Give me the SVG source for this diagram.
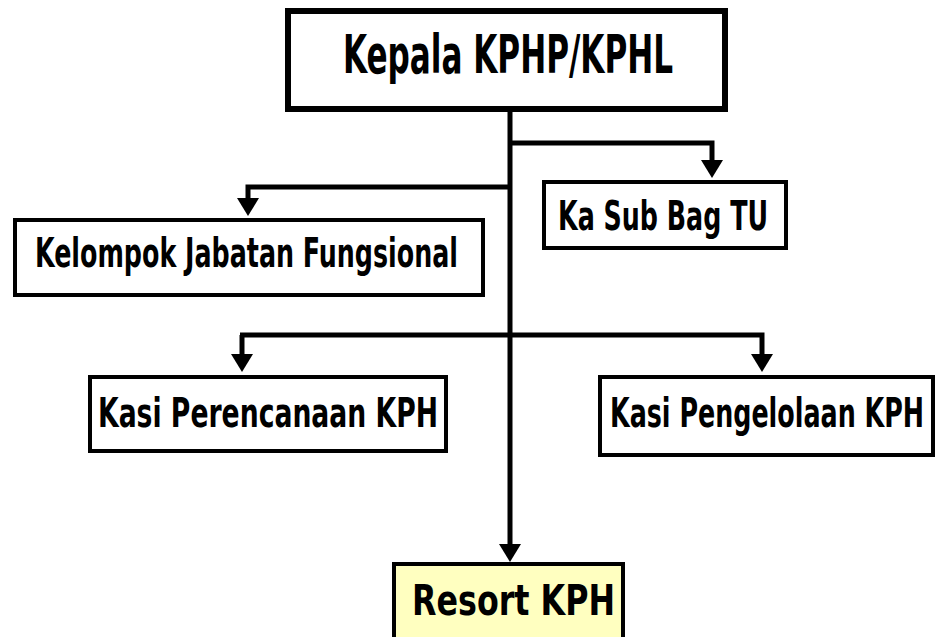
<svg xmlns="http://www.w3.org/2000/svg" width="937" height="637" viewBox="0 0 937 637">
<style>
.box{fill:#fff;stroke:#000;stroke-width:4}
.t{font-family:"DejaVu Sans Condensed","DejaVu Sans","Liberation Sans",sans-serif;font-weight:bold;font-stretch:condensed;fill:#000;text-anchor:start}
.c{fill:none;stroke:#000;stroke-width:5}
</style>
<defs>
<marker id="arr" viewBox="0 0 18 22" refX="8" refY="11" markerWidth="18" markerHeight="22" markerUnits="userSpaceOnUse" orient="auto">
<path d="M0,0 L18,11 L0,22 z" fill="#000"/>
</marker>
</defs>
<rect width="937" height="637" fill="#fff"/>
<g id="connectors">
<path class="c" d="M510,112 V552" marker-end="url(#arr)"/>
<path class="c" d="M510,143 H712 V168" marker-end="url(#arr)"/>
<path class="c" d="M510,187 H248 V206" marker-end="url(#arr)"/>
<path class="c" d="M240,335 H762 V362" marker-end="url(#arr)"/>
<path class="c" d="M242,335 V362" marker-end="url(#arr)"/>
</g>
<g id="kepala">
<rect class="box" x="288" y="11" width="437" height="98" style="stroke-width:6"/>
<text class="t" x="343" y="73" font-size="53" textLength="330" lengthAdjust="spacingAndGlyphs">Kepala KPHP/KPHL</text>
</g>
<g id="kasubbag">
<rect class="box" x="544" y="182" width="242" height="66"/>
<text class="t" x="558" y="230" font-size="40" textLength="210" lengthAdjust="spacingAndGlyphs">Ka Sub Bag TU</text>
</g>
<g id="kelompok">
<rect class="box" x="15" y="220" width="468" height="75"/>
<text class="t" x="35" y="267" font-size="40" textLength="423" lengthAdjust="spacingAndGlyphs">Kelompok Jabatan Fungsional</text>
</g>
<g id="perencanaan">
<rect class="box" x="90" y="377" width="356" height="74"/>
<text class="t" x="98" y="427" font-size="40" textLength="340" lengthAdjust="spacingAndGlyphs">Kasi Perencanaan KPH</text>
</g>
<g id="pengelolaan">
<rect class="box" x="600" y="377" width="333" height="78"/>
<text class="t" x="610" y="427" font-size="40" textLength="314" lengthAdjust="spacingAndGlyphs">Kasi Pengelolaan KPH</text>
</g>
<g id="resort">
<rect class="box" x="394" y="564" width="229" height="90" style="fill:#ffffc0"/>
<text class="t" x="412" y="615" font-size="43" textLength="203" lengthAdjust="spacingAndGlyphs">Resort KPH</text>
</g>
</svg>
